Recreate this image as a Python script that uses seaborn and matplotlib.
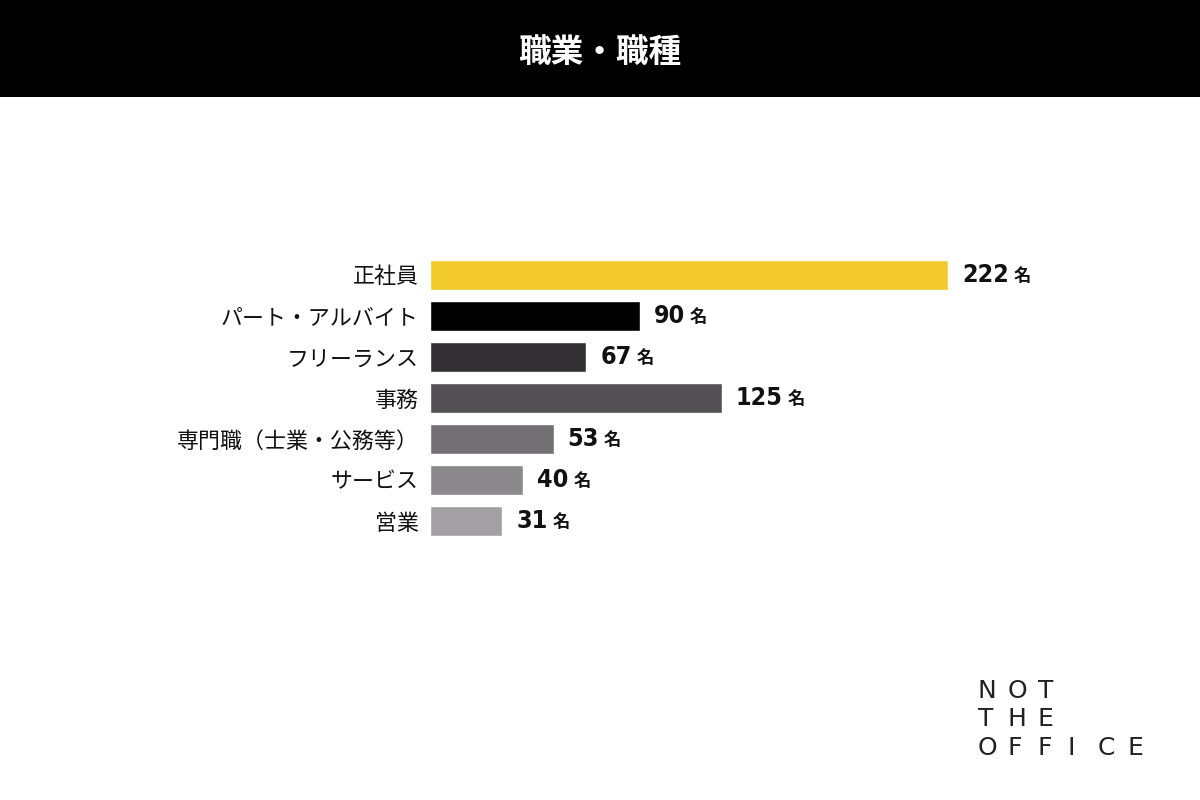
import matplotlib
matplotlib.use('Agg')
import matplotlib.pyplot as plt
import seaborn as sns
import pandas as pd

categories = ['正社員', 'パート・アルバイト', 'フリーランス', '事務', '専門職（士業・公務等）', 'サービス', '営業']
counts = [222, 90, 67, 125, 53, 40, 31]
colors = ['#F2CA2B', '#000000', '#333134', '#545155', '#737073', '#8B898B', '#A2A0A2']
title = '職業・職種'
unit = '名'
logo_lines = ['NOT', 'THE', 'OFFICE']

sns.set_theme(style='white')
plt.rcParams['font.family'] = ['Noto Sans CJK JP', 'DejaVu Sans']

df = pd.DataFrame({'cat': categories, 'n': counts})

fig = plt.figure(figsize=(12, 8), dpi=100)
fig.patch.set_facecolor('white')

# black header band
fig.patches.append(plt.Rectangle((0, 1 - 97 / 800), 1, 97 / 800, transform=fig.transFigure,
                                 facecolor='black', edgecolor='none', zorder=0))
fig.text(0.5, 1 - 52 / 800, title, color='white', fontsize=23.5, fontweight='bold',
         ha='center', va='center')

ax = fig.add_axes([430 / 1200, 0.3231, 700 / 1200, 0.6819 - 0.3231])
sns.barplot(data=df, x='n', y='cat', hue='cat', palette=colors, legend=False,
            orient='h', width=0.73, ax=ax, saturation=1)
ax.set_xlim(0, 300)
ax.set_ylim(6.5, -0.5)
ax.set_xlabel('')
ax.set_ylabel('')
ax.set_xticks([])
sns.despine(ax=ax, left=True, bottom=True)
ax.tick_params(axis='y', length=0, pad=8, labelsize=15.8, labelcolor='#111111')

fig.canvas.draw()
renderer = fig.canvas.get_renderer()
for i, v in enumerate(counts):
    t = ax.annotate(str(v), xy=(v, i), xytext=(10, 0), textcoords='offset points',
                    ha='left', va='center', fontsize=18, fontweight='bold',
                    family=['DejaVu Sans'], fontstretch='condensed', color='#111111')
    bb = t.get_window_extent(renderer)
    xd, _ = ax.transData.inverted().transform((bb.x1 + 5, 0))
    ax.annotate(unit, xy=(xd, i), xytext=(0, -1), textcoords='offset points',
                ha='left', va='center', fontsize=12.5, fontweight='bold', color='#111111')

# logo, letters spaced out wide
for k, word in enumerate(logo_lines):
    for j, ch in enumerate(word):
        fig.text((978 + 30 * j) / 1200, 1 - (691 + 28.5 * k) / 800, ch, fontsize=18,
                 family=['DejaVu Sans'], color='#222222',
                 ha='left', va='center')

fig.savefig('out.png', dpi=100)
